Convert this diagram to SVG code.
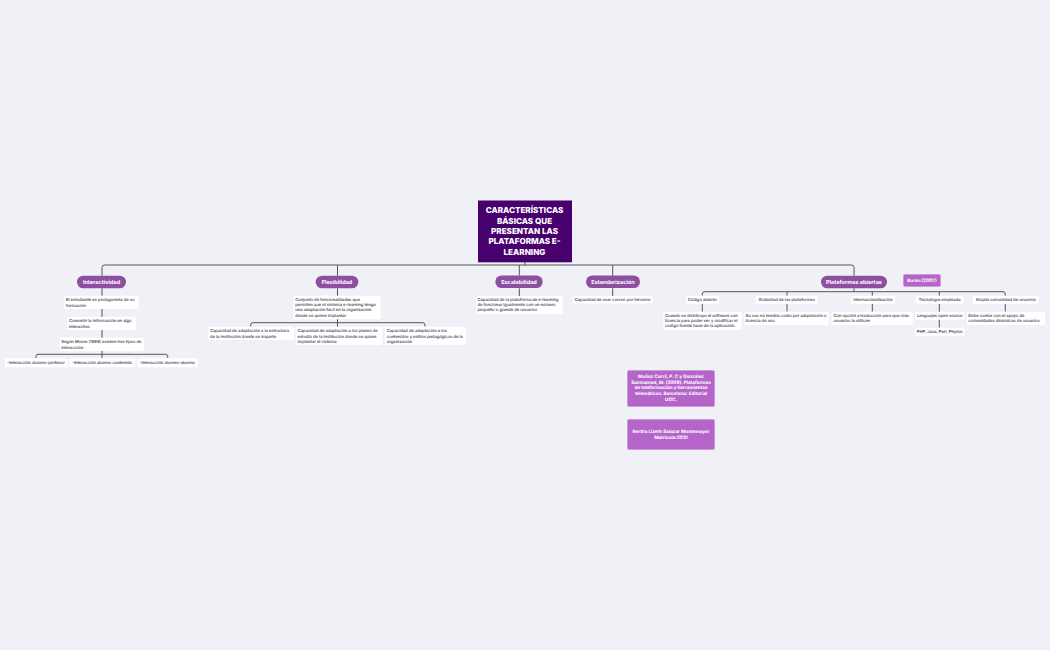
<svg xmlns="http://www.w3.org/2000/svg" width="1050" height="650" viewBox="0 0 1050 650">
<style>
text{font-family:"Inter","Noto Sans","DejaVu Sans",sans-serif;text-rendering:geometricPrecision}
.c{fill:none;stroke:#555;stroke-width:1}
.b{fill:#fff}
.t{font-size:4.1px;fill:#2f2f3a;font-weight:500}
.p{fill:#8e4fa3}
.pt{font-size:5.5px;font-weight:700;fill:#fff;text-anchor:middle}
.r{font-size:8.1px;font-weight:800;fill:#fff;text-anchor:middle}
.m{fill:#b565c9;stroke:#c98ad8;stroke-width:.6}
.mt{font-size:4.6px;font-weight:700;fill:#fff;text-anchor:middle}
</style>
<rect width="1050" height="650" fill="#eff1f6"/>
<g id="connectors">
<path class="c" d="M525 262V265M102 275.7V267.5Q102 265 104.500 265H851.500Q854 265 854 267.500V275.700M337.500 265V275.700M519.300 265V275.700M612.700 265V275.700"/>
<path class="c" d="M102 288.300V358M36 358V356.500Q36 354.300 38 354.300H165.700Q167.700 354.300 167.700 356.500V358"/>
<path class="c" d="M337.500 288.300V326.700M250.700 326.700V325Q250.700 322.700 253 322.700H422.700Q425 322.700 425 325V326.700"/>
<path class="c" d="M519.300 288.300V296M612.700 288.300V296"/>
<path class="c" d="M854 288.300V291.700M702.300 295.700V294Q702.300 291.700 704.500 291.700H1003Q1005.300 291.700 1005.300 294V295.700M787 291.700V295.700M872.300 291.700V295.700M939.300 291.700V295.700"/>
<path class="c" d="M702.300 303.700V311.700M787 303.700V311.700M872.300 303.700V311.700M939.300 303.700V327.700M1005.300 303.700V311.700"/>
</g>
<g id="root"><rect x="478" y="200.500" width="94" height="61.800" fill="#47006e"/>
<text class="r" x="524.500" y="213">CARACTERÍSTICAS</text><text class="r" x="524.500" y="223.500">BÁSICAS QUE</text><text class="r" x="524.500" y="234">PRESENTAN LAS</text><text class="r" x="524.500" y="244.300">PLATAFORMAS E-</text><text class="r" x="524.500" y="255">LEARNING</text></g>
<g id="n-interactividad"><rect class="p" x="77" y="275.700" width="49" height="12.600" rx="6.300"/><text class="pt" x="101.500" y="284">Interactividad</text></g>
<g id="n-flexibilidad"><rect class="p" x="315.700" y="275.700" width="42.600" height="12.600" rx="6.300"/><text class="pt" x="337" y="284">Flexibilidad</text></g>
<g id="n-escalabilidad"><rect class="p" x="495.300" y="275.500" width="47.400" height="12.600" rx="6.300"/><text class="pt" x="519" y="284">Escalabilidad</text></g>
<g id="n-estandarizacion"><rect class="p" x="586" y="275.500" width="54" height="12.600" rx="6.300"/><text class="pt" x="613" y="284">Estandarización</text></g>
<g id="n-plataformas"><rect class="p" x="821" y="275.700" width="66" height="12.600" rx="6.300"/><text class="pt" x="854" y="284">Plataformas abiertas</text></g>
<g id="n-bureu"><rect class="m" x="903.500" y="274.500" width="37" height="12" rx="1.500"/><text class="mt" x="922" y="282">Bureu (2007)</text></g>
<g id="n1"><rect class="b" x="64.300" y="295.700" width="74.400" height="13.300" rx="1.500"/><text class="t" x="66" y="301.300">El estudiante es protagonista de su</text><text class="t" x="66" y="306.500">formación</text></g>
<g id="n2"><rect class="b" x="67.300" y="316.700" width="68.700" height="13.300" rx="1.500"/><text class="t" x="69" y="322.300">Convertir la información en algo</text><text class="t" x="69" y="327.500">interactivo</text></g>
<g id="n3"><rect class="b" x="60" y="337.700" width="84" height="13.300" rx="1.500"/><text class="t" x="61.300" y="343.300">Según Moore (1989) existen tres tipos de</text><text class="t" x="61.300" y="348.500">interacción.</text></g>
<g id="n4"><rect class="b" x="5" y="358.300" width="62.700" height="9" rx="1.500"/><text class="t" x="7" y="364.300">-Interacción alumno-profesor</text></g>
<g id="n5"><rect class="b" x="69.300" y="358.300" width="65.700" height="9" rx="1.500"/><text class="t" x="72" y="364.300">-Interacción alumno contenido</text></g>
<g id="n6"><rect class="b" x="137.300" y="358.300" width="61" height="9" rx="1.500"/><text class="t" x="139.500" y="364.300">-Interacción alumno-alumno</text></g>
<g id="n7"><rect class="b" x="293.300" y="295.700" width="87.400" height="23.600" rx="1.500"/><text class="t" x="295.300" y="300.800">Conjunto de funcionalidades que</text><text class="t" x="295.300" y="306">permiten que el sistema e-learning tenga</text><text class="t" x="295.300" y="311.300">una adaptación fácil en la organización</text><text class="t" x="295.300" y="316.600">donde se quiere implantar</text></g>
<g id="n8"><rect class="b" x="208.300" y="326.700" width="85.700" height="13.300" rx="1.500"/><text class="t" x="210" y="332.300">Capacidad de adaptación a la estructura</text><text class="t" x="210" y="337.500">de la institución donde se imparte</text></g>
<g id="n9"><rect class="b" x="295.700" y="326.700" width="86.600" height="18.300" rx="1.500"/><text class="t" x="297.500" y="332.300">Capacidad de adaptación a los planes de</text><text class="t" x="297.500" y="337.500">estudio de la institución donde  se quiere</text><text class="t" x="297.500" y="342.700">implantar el sistema</text></g>
<g id="n10"><rect class="b" x="385" y="326.700" width="80.700" height="18.300" rx="1.500"/><text class="t" x="386.800" y="332.300">Capacidad de adaptación a los</text><text class="t" x="386.800" y="337.500">contenidos y estilos pedagógicos de la</text><text class="t" x="386.800" y="342.700">organización</text></g>
<g id="n11"><rect class="b" x="476" y="296" width="86.700" height="18" rx="1.500"/><text class="t" x="477.500" y="301">Capacidad de la plataforma de e-learning</text><text class="t" x="477.500" y="306.200">de funcionar igualmente  con un número</text><text class="t" x="477.500" y="311.400">pequeño o grande de usuarios</text></g>
<g id="n12"><rect class="b" x="573.300" y="296" width="79.400" height="7.500" rx="1.500"/><text class="t" x="574.500" y="301">Capacidad de usar cursos por terceros</text></g>
<g id="n13"><rect class="b" x="686" y="295.700" width="32.700" height="8" rx="1.500"/><text class="t" x="702.300" y="301.200" text-anchor="middle">Código abierto</text></g>
<g id="n14"><rect class="b" x="755.700" y="295.700" width="62" height="8" rx="1.500"/><text class="t" x="786.700" y="301.200" text-anchor="middle">Gratuidad de las plataformas</text></g>
<g id="n15"><rect class="b" x="851" y="295.700" width="44" height="8" rx="1.500"/><text class="t" x="873" y="301.200" text-anchor="middle">Internacionalización</text></g>
<g id="n16"><rect class="b" x="916" y="295.700" width="47.300" height="8" rx="1.500"/><text class="t" x="939.700" y="301.200" text-anchor="middle">Tecnología empleada</text></g>
<g id="n17"><rect class="b" x="972.700" y="295.700" width="66.300" height="8" rx="1.500"/><text class="t" x="1005.800" y="301.200" text-anchor="middle">Amplia comunidad de usuarios</text></g>
<g id="n18"><rect class="b" x="663.300" y="311.700" width="78.400" height="18.300" rx="1.500"/><text class="t" x="665" y="316.800">Cuando se distribuye  el software con</text><text class="t" x="665" y="322">licencia para poder ver y modificar el</text><text class="t" x="665" y="327.200">codigo fuente base de la aplicación.</text></g>
<g id="n19"><rect class="b" x="744" y="311.700" width="84.700" height="13.300" rx="1.500"/><text class="t" x="745.500" y="316.800">Su uso no tendría costo por adquisición o</text><text class="t" x="745.500" y="322">licencia de uso</text></g>
<g id="n20"><rect class="b" x="831.700" y="311.700" width="81" height="13.300" rx="1.500"/><text class="t" x="833.500" y="316.800">Con opción a traducción para que más</text><text class="t" x="833.500" y="322">usuarios la utilicen</text></g>
<g id="n21"><rect class="b" x="915" y="311.700" width="49.300" height="8" rx="1.500"/><text class="t" x="939.700" y="317.200" text-anchor="middle">Lenguajes open source</text></g>
<g id="n22"><rect class="b" x="915" y="327.700" width="49.300" height="8" rx="1.500"/><text class="t" x="939.700" y="333.200" text-anchor="middle">PHP, Java, Perl, Phyton</text></g>
<g id="n23"><rect class="b" x="966.700" y="311.700" width="78.300" height="13.300" rx="1.500"/><text class="t" x="968.300" y="316.800">Debe contar con el apoyo de</text><text class="t" x="968.300" y="322">comunidades dinámicas de  usuarios</text></g>
<g id="n24"><rect class="m" x="627.500" y="370.500" width="87" height="36" rx="1.500"/><text class="mt" x="671" y="377.700">Muñoz Carril, P. C y González</text><text class="mt" x="671" y="383.500">Sanmamed, M. (2009). Plataformas</text><text class="mt" x="671" y="389.300">de teleformación y herramientas</text><text class="mt" x="671" y="395.100">telemáticas. Barcelona: Editorial</text><text class="mt" x="671" y="401">UOC.</text></g>
<g id="n25"><rect class="m" x="627.500" y="419.500" width="87" height="30" rx="1.500"/><text class="mt" x="671" y="433">Bertha Lizeth Salazar Montemayor</text><text class="mt" x="671" y="439">Matricula:2031</text></g>
</svg>
